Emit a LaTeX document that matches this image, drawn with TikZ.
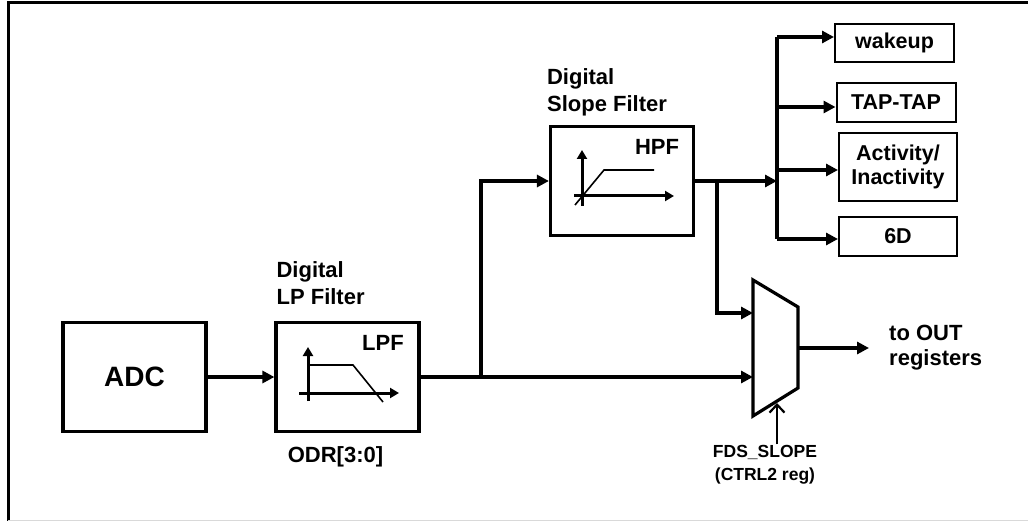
\documentclass[tikz,border=0pt]{standalone}
\usepackage{fontspec}
\setmainfont{Liberation Sans}
\usetikzlibrary{arrows.meta, positioning}
\tikzstyle{block} = [draw, line width=3.2pt, minimum width=143pt, minimum height=109pt, inner sep=0pt]
\tikzstyle{outbox} = [draw, line width=2pt, minimum width=119pt, minimum height=39pt, inner sep=0pt, align=center, font=\fontsize{21.5}{24}\selectfont\bfseries]
\tikzstyle{blocktitle} = [align=left, inner sep=0pt, text depth=0pt, font=\fontsize{22}{27}\selectfont\bfseries]
\tikzstyle{wire} = [line width=3.2pt]
\tikzstyle{arrow} = [line width=3.2pt, -{Triangle[length=12pt,width=12pt]}]
\tikzstyle{axis} = [line width=3pt, -{Triangle[length=9pt,width=10pt]}]
\tikzstyle{curve} = [line width=1.6pt]

\begin{document}
\begin{tikzpicture}[x=1pt, y=-1pt]
    \useasboundingbox (0,0) rectangle (1028,521);
    \fill[white] (0,0) rectangle (1028,521);
    % frame
    \draw[line width=3pt] (8,521) -- (8,3) -- (1028,3);
    \draw[black!15, line width=1pt] (8,520) -- (1028,520);

    % blocks
    \node[block, font=\fontsize{28}{32}\selectfont\bfseries] (adc) at (134.5,377) {ADC};
    \node[block] (lpf) at (347.5,377) {};
    \node[block] (hpf) at (622,181) {};
    \node[blocktitle, anchor=south west] (lpftitle) at ([xshift=2pt, yshift=16pt]lpf.north west) {Digital\\LP Filter};
    \node[blocktitle, anchor=south west] (hpftitle) at ([xshift=-2pt, yshift=13pt]hpf.north west) {Digital\\Slope Filter};
    \node[font=\fontsize{22}{26}\selectfont\bfseries, anchor=north] (odr) at ([xshift=-12pt, yshift=-10pt]lpf.south) {ODR[3:0]};

    % LPF sketch
    \node[font=\fontsize{22}{26}\selectfont\bfseries] (lpflabel) at (383,343) {LPF};
    \draw[axis] (308,401) -- (308,347);
    \draw[axis] (299,393) -- (399,393);
    \draw[curve] (308,365) -- (353,365) -- (383,402);

    % HPF sketch
    \node[font=\fontsize{22}{26}\selectfont\bfseries] (hpflabel) at (657,147) {HPF};
    \draw[axis] (582,206) -- (582,150);
    \draw[axis] (574,196) -- (674,196);
    \draw[curve] (575,205) -- (604,170) -- (654,170);

    % outputs
    \node[outbox, minimum height=38pt] (wakeup) at (894.5,43) {wakeup};
    \node[outbox] (taptap) at (896,102.5) {TAP-TAP};
    \node[outbox, minimum width=118pt, minimum height=68pt] (activity) at (898,167) {Activity/\\Inactivity};
    \node[outbox, minimum width=118pt] (sixd) at (898,236.5) {6D};

    % mux
    \coordinate (m1) at (753,280);
    \coordinate (m2) at (798,307);
    \coordinate (m3) at (798,388);
    \coordinate (m4) at (753,416);
    \draw[wire, line join=miter] (m1) -- (m2) -- (m3) -- (m4) -- cycle;
    \coordinate (muxa) at (753,313);
    \coordinate (muxb) at (753,377);
    \coordinate (muxout) at (798,348);
    \coordinate (outend) at (869,348);
    \node[right=20pt of outend, align=left, inner sep=0pt, font=\fontsize{22}{25}\selectfont\bfseries] (outlabel) {to OUT\\registers};
    \node[align=center, inner sep=1pt, font=\fontsize{17.5}{23}\selectfont\bfseries] (sel) at (765,465) {FDS\_SLOPE\\(CTRL2 reg)};
    \coordinate (selin) at (777,403);

    % connectors
    \coordinate (split) at (481,377);
    \coordinate (tap) at (717,181);
    \coordinate (bus) at (777,181);
    \coordinate (b1) at (777,37);
    \coordinate (b2) at (777,107);
    \coordinate (b3) at (777,170);
    \coordinate (b4) at (777,239);
    \draw[arrow] (adc) -- (lpf);
    \draw[wire] (lpf.east) -- (split);
    \draw[arrow] (split) -- (muxb);
    \draw[arrow] (split) |- (hpf.west);
    \draw[arrow] (hpf.east) -- (bus);
    \draw[arrow] (tap) |- (muxa);
    \draw[wire] (b1) -- (b4);
    \draw[arrow] (b1) -- (b1 -| wakeup.west);
    \draw[arrow] (b2) -- (b2 -| taptap.west);
    \draw[arrow] (b3) -- (b3 -| activity.west);
    \draw[arrow] (b4) -- (b4 -| sixd.west);
    \draw[arrow] (muxout) -- (outend);
    \draw[line width=2.2pt, -{Straight Barb[length=8pt,width=15pt]}] (sel.north -| selin) -- (selin);
\end{tikzpicture}
\end{document}
